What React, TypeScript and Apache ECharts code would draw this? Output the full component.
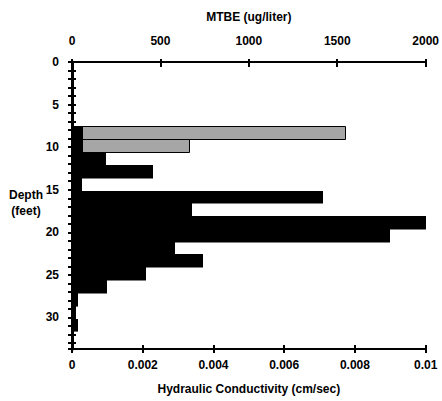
import React, { useEffect, useRef } from "react";
import * as echarts from "echarts";

// Depth interval boundaries (feet) for hydraulic conductivity bars
const kDepthBounds = [7.5, 9.05, 10.6, 12.1, 13.6, 15.1, 16.6, 18.1, 19.6, 21.1, 22.6, 24.1, 25.6, 27.15, 28.7, 30.2, 31.6];
// Hydraulic conductivity (cm/sec) per interval
const hydraulic = [0.0003, 0.0003, 0.00096, 0.0023, 0.00027, 0.0071, 0.0034, 0.01, 0.009, 0.0029, 0.0037, 0.0021, 0.00098, 0.00017, 0.00012, 0.00016];
// MTBE intervals and values (ug/liter)
const mtbeDepthBounds = [7.5, 9.05, 10.6];
const mtbe = [1550, 670];

const depthMax = 33.7;
const FONT = "'Liberation Sans', Arial, sans-serif";

export default function App() {
  const ref = useRef<HTMLDivElement>(null);
  useEffect(() => {
    if (!ref.current) return;
    const chart = echarts.init(ref.current, null, { renderer: "svg" });
    const hData = hydraulic.map((v, i) => [kDepthBounds[i], kDepthBounds[i + 1], v]);
    const mData = mtbe.map((v, i) => [mtbeDepthBounds[i], mtbeDepthBounds[i + 1], v]);
    const tickStyle = { color: "#000", width: 2 };
    const labelStyle = { color: "#000", fontWeight: "bold" as const, fontSize: 12, fontFamily: FONT };
    const makeRender = (fill: string, stroke: string | null) => (params: any, api: any) => {
      const top = api.value(0);
      const bottom = api.value(1);
      const v = api.value(2);
      const p0 = api.coord([0, top]);
      const p1 = api.coord([v, bottom]);
      const x0 = Math.round(p0[0]);
      const x1 = Math.round(p1[0]);
      const y0 = Math.round(p0[1]);
      const y1 = Math.round(p1[1]);
      if (stroke) {
        return {
          type: "rect",
          shape: { x: x0 + 0.5, y: y0 + 0.5, width: x1 - x0 - 1, height: y1 - y0 },
          style: { fill, stroke, lineWidth: 1 },
        };
      }
      return {
        type: "rect",
        shape: { x: x0, y: y0, width: x1 - x0, height: y1 - y0 + 0.6 },
        style: { fill },
      };
    };
    chart.setOption({
      animation: false,
      grid: { left: 72, right: 14, top: 62, bottom: 52 },
      textStyle: { fontFamily: FONT },
      xAxis: [
        {
          type: "value", position: "bottom", min: 0, max: 0.01, interval: 0.002,
          name: "Hydraulic Conductivity (cm/sec)", nameLocation: "middle", nameGap: 34,
          nameTextStyle: { ...labelStyle },
          axisLine: { show: true, onZero: false, lineStyle: tickStyle },
          axisTick: { show: true, length: 4, lineStyle: tickStyle },
          axisLabel: { ...labelStyle, margin: 10, formatter: (v: number) => String(+v.toFixed(4)) },
          splitLine: { show: false },
        },
        {
          type: "value", position: "bottom", min: 0, max: 0.01, interval: 0.002,
          axisLine: { show: false, onZero: false },
          axisTick: { show: true, inside: true, length: 4, lineStyle: tickStyle },
          axisLabel: { show: false },
          splitLine: { show: false },
        },
        {
          type: "value", position: "top", min: 0, max: 2000, interval: 500,
          name: "MTBE (ug/liter)", nameLocation: "middle", nameGap: 39,
          nameTextStyle: { ...labelStyle },
          axisLine: { show: true, onZero: false, lineStyle: tickStyle },
          axisTick: { show: true, length: 3, lineStyle: tickStyle },
          axisLabel: { ...labelStyle, margin: 15, formatter: (v: number) => String(Math.round(v)) },
          splitLine: { show: false },
        },
        {
          type: "value", position: "top", min: 0, max: 2000, interval: 500,
          axisLine: { show: false, onZero: false },
          axisTick: { show: true, inside: true, length: 5, lineStyle: tickStyle },
          axisLabel: { show: false },
          splitLine: { show: false },
        },
      ],
      yAxis: [
        {
          type: "value", inverse: true, min: 0, max: depthMax, interval: 1,
          axisLine: { show: true, onZero: false, lineStyle: { color: "#000", width: 3 } },
          axisTick: { show: true, length: 4, lineStyle: tickStyle },
          axisLabel: {
            ...labelStyle, margin: 13,
            formatter: (v: number) => (Math.abs(v / 5 - Math.round(v / 5)) < 1e-6 ? String(Math.round(v)) : ""),
          },
          splitLine: { show: false },
        },
        {
          type: "value", inverse: true, min: 0, max: depthMax, interval: 1, position: "left",
          axisLine: { show: false, onZero: false },
          axisTick: { show: true, inside: true, length: 4, lineStyle: tickStyle },
          axisLabel: { show: false },
          splitLine: { show: false },
        },
      ],
      graphic: [
        {
          type: "text", x: 26, y: 203,
          style: {
            text: "Depth\n(feet)", fill: "#000", font: `bold 12px ${FONT}`,
            textAlign: "center", textVerticalAlign: "middle", lineHeight: 16,
          },
        },
      ],
      series: [
        {
          type: "custom", name: "MTBE", xAxisIndex: 2, yAxisIndex: 0, z: 2,
          encode: { x: 2, y: [0, 1] },
          renderItem: makeRender("#a6a6a6", "#000"),
          data: mData,
        },
        {
          type: "custom", name: "Hydraulic Conductivity", xAxisIndex: 0, yAxisIndex: 0, z: 3,
          encode: { x: 2, y: [0, 1] },
          renderItem: makeRender("#000", null),
          data: hData,
        },
      ],
    });
    return () => chart.dispose();
  }, []);
  return (
    <div
      ref={ref}
      style={{ position: "fixed", left: 0, top: 0, width: 442, height: 401, background: "#fff" }}
    />
  );
}
